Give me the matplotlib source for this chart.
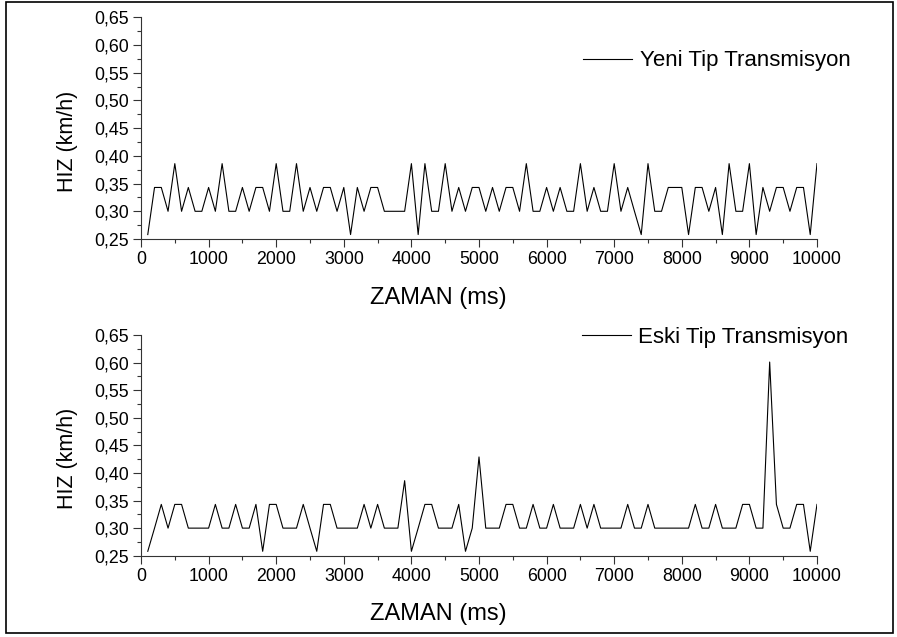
import numpy as np
import matplotlib
matplotlib.use("Agg")
import matplotlib.pyplot as plt
from matplotlib.ticker import MultipleLocator, FuncFormatter
from matplotlib.patches import Rectangle

plt.rcParams['font.family'] = ['Liberation Sans', 'DejaVu Sans']

# zaman ekseni (ms), 100 ms aralikla
zaman = np.arange(100, 10001, 100)

# Yeni tip transmisyon hizi (km/h)
yeni_hiz = [
    0.258, 0.343, 0.343, 0.300, 0.386, 0.300, 0.343, 0.300, 0.300, 0.343,
    0.300, 0.386, 0.300, 0.300, 0.343, 0.300, 0.343, 0.343, 0.300, 0.386,
    0.300, 0.300, 0.386, 0.300, 0.343, 0.300, 0.343, 0.343, 0.300, 0.343,
    0.258, 0.343, 0.300, 0.343, 0.343, 0.300, 0.300, 0.300, 0.300, 0.386,
    0.258, 0.386, 0.300, 0.300, 0.386, 0.300, 0.343, 0.300, 0.343, 0.343,
    0.300, 0.343, 0.300, 0.343, 0.343, 0.300, 0.386, 0.300, 0.300, 0.343,
    0.300, 0.343, 0.300, 0.300, 0.386, 0.300, 0.343, 0.300, 0.300, 0.386,
    0.300, 0.343, 0.300, 0.258, 0.386, 0.300, 0.300, 0.343, 0.343, 0.343,
    0.258, 0.343, 0.343, 0.300, 0.343, 0.258, 0.386, 0.300, 0.300, 0.386,
    0.258, 0.343, 0.300, 0.343, 0.343, 0.300, 0.343, 0.343, 0.258, 0.386,
]

# Eski tip transmisyon hizi (km/h)
eski_hiz = [
    0.258, 0.300, 0.343, 0.300, 0.343, 0.343, 0.300, 0.300, 0.300, 0.300,
    0.343, 0.300, 0.300, 0.343, 0.300, 0.300, 0.343, 0.258, 0.343, 0.343,
    0.300, 0.300, 0.300, 0.343, 0.300, 0.258, 0.343, 0.343, 0.300, 0.300,
    0.300, 0.300, 0.343, 0.300, 0.343, 0.300, 0.300, 0.300, 0.386, 0.258,
    0.300, 0.343, 0.343, 0.300, 0.300, 0.300, 0.343, 0.258, 0.300, 0.429,
    0.300, 0.300, 0.300, 0.343, 0.343, 0.300, 0.300, 0.343, 0.300, 0.300,
    0.343, 0.300, 0.300, 0.300, 0.343, 0.300, 0.343, 0.300, 0.300, 0.300,
    0.300, 0.343, 0.300, 0.300, 0.343, 0.300, 0.300, 0.300, 0.300, 0.300,
    0.300, 0.343, 0.300, 0.300, 0.343, 0.300, 0.300, 0.300, 0.343, 0.343,
    0.300, 0.300, 0.601, 0.343, 0.300, 0.300, 0.343, 0.343, 0.258, 0.343,
]

fig = plt.figure(figsize=(8.97, 6.37), dpi=100)
ax1 = fig.add_axes([0.1572, 0.6248, 0.7536, 0.348])
ax2 = fig.add_axes([0.1572, 0.1276, 0.7536, 0.3465])

virgul = FuncFormatter(lambda v, p: f"{v:.2f}".replace('.', ','))

def ayarla(ax, y, etiket, leg_xy):
    ax.plot(zaman, y, color='black', lw=0.8, label=etiket)
    ax.set_xlim(0, 10000)
    ax.set_ylim(0.25, 0.65)
    ax.xaxis.set_major_locator(MultipleLocator(1000))
    ax.xaxis.set_minor_locator(MultipleLocator(500))
    ax.yaxis.set_major_locator(MultipleLocator(0.05))
    ax.yaxis.set_minor_locator(MultipleLocator(0.025))
    ax.yaxis.set_major_formatter(virgul)
    for s in ['top', 'right']:
        ax.spines[s].set_visible(False)
    for s in ['left', 'bottom']:
        ax.spines[s].set_linewidth(0.8)
        ax.spines[s].set_color('#333333')
    ax.tick_params(which='major', direction='out', length=5.5, width=0.8,
                   labelsize=12.8, pad=3, color='#333333')
    ax.tick_params(which='minor', direction='out', length=3, width=0.8,
                   color='#333333')
    ax.set_xlabel('ZAMAN (ms)', fontsize=17)
    ax.xaxis.set_label_coords(0.44, -0.215)
    ax.set_ylabel('HIZ (km/h)', fontsize=15.5)
    ax.yaxis.set_label_coords(-0.093, 0.44)
    ax.legend(loc='center left', bbox_to_anchor=leg_xy, borderaxespad=0,
              borderpad=0, handlelength=2.2, handletextpad=0.35,
              frameon=False, fontsize=16)

ayarla(ax1, yeni_hiz, 'Yeni Tip Transmisyon', (0.654, 0.803))
ayarla(ax2, eski_hiz, 'Eski Tip Transmisyon', (0.652, 0.99))

# dis cerceve
fig.add_artist(Rectangle((0.0067, 0.006), 0.9888, 0.9915, transform=fig.transFigure,
                         fill=False, lw=1.2, ec='black'))

plt.savefig('out.png', dpi=100)
